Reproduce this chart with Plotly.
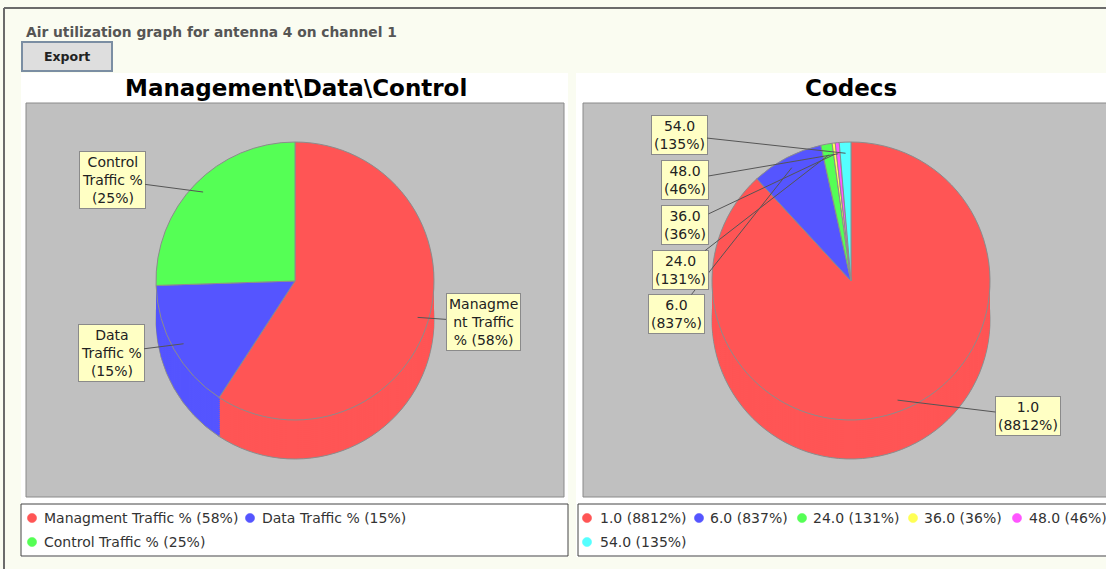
import math
import plotly.graph_objects as go

# ---- data -------------------------------------------------------------
mdc_names = ["Managment Traffic %", "Data Traffic %", "Control Traffic %"]
mdc_values = [58, 15, 25]
# wrapped callout text, "{v}" is filled with the slice value
mdc_callout_fmt = ["Managme<br>nt Traffic<br>% ({v}%)", "Data<br>Traffic %<br>({v}%)",
                   "Control<br>Traffic %<br>({v}%)"]

codec_names = ["1.0", "6.0", "24.0", "36.0", "48.0", "54.0"]
codec_values = [8812, 837, 131, 36, 46, 135]

slice_colors = ["#ff5555", "#5555ff", "#55ff55", "#ffff55", "#ff55ff", "#55ffff"]

# ---- page geometry (pixels) ------------------------------------------
W, H = 1106, 569
BG = "#fafcf1"


def px(x):
    return x / W


def py(y):
    return 1 - y / H


R = 139          # pie radius
DEPTH = 39       # extrusion depth of the 3D pie
STEP = 2
charts = [
    dict(names=mdc_names, values=mdc_values, cx=295, cy=281,
         fmt=mdc_callout_fmt,
         boxes=[(483, 322), (111, 353), (112, 180)]),
    dict(names=codec_names, values=codec_values, cx=851, cy=281,
         fmt=[n + "<br>({v}%)" for n in codec_names],
         boxes=[(1028, 416), (676, 314), (680, 270), (685, 225), (685, 180), (679, 135)]),
]

fig = go.Figure()
shapes = []
annotations = []

# window frame
shapes.append(dict(type="line", xref="paper", yref="paper", x0=px(4), x1=px(W + 5),
                   y0=py(8), y1=py(8), line=dict(color="#6b6b6b", width=2)))
shapes.append(dict(type="line", xref="paper", yref="paper", x0=px(4), x1=px(4),
                   y0=py(8), y1=py(H + 5), line=dict(color="#6b6b6b", width=2)))

# chart panels, plot areas and legend frames
for (x0, x1) in [(21, 568), (576, W + 5)]:
    shapes.append(dict(type="rect", xref="paper", yref="paper", layer="below",
                       x0=px(x0), x1=px(x1), y0=py(73), y1=py(557),
                       fillcolor="white", line=dict(width=0)))
for (x0, x1) in [(26, 564), (583, W + 5)]:
    shapes.append(dict(type="rect", xref="paper", yref="paper", layer="below",
                       x0=px(x0), x1=px(x1), y0=py(103), y1=py(497),
                       fillcolor="#c0c0c0", line=dict(color="#8a8a8a", width=1)))
for (x0, x1) in [(21, 568), (578, W + 5)]:
    shapes.append(dict(type="rect", xref="paper", yref="paper", layer="below",
                       x0=px(x0), x1=px(x1), y0=py(504), y1=py(556),
                       fillcolor="white", line=dict(color="#444444", width=1)))

# export button
shapes.append(dict(type="rect", xref="paper", yref="paper",
                   x0=px(22), x1=px(112), y0=py(42), y1=py(71),
                   fillcolor="#dedede", line=dict(color="#7b8ea3", width=2)))
annotations.append(dict(text="<b>Export</b>", x=px(67), y=py(56.5), xref="paper", yref="paper",
                        xanchor="center", yanchor="middle", showarrow=False,
                        font=dict(family="DejaVu Sans", size=12.5, color="#222")))

# page heading
annotations.append(dict(text="<b>Air utilization graph for antenna 4 on channel 1</b>",
                        x=px(24), y=py(32), xref="paper", yref="paper",
                        xanchor="left", yanchor="middle", showarrow=False,
                        font=dict(family="DejaVu Sans", size=13.8, color="#555555")))

# chart titles
for title, cx in [("Management\\Data\\Control", 296), ("Codecs", 851)]:
    annotations.append(dict(text="<b>" + title + "</b>", x=px(cx), y=py(88),
                            xref="paper", yref="paper", xanchor="center", yanchor="middle",
                            showarrow=False,
                            font=dict(family="DejaVu Sans", size=23, color="black")))

# 3D pies: stacked layers from the bottom of the extrusion up to the top face
for ch in charts:
    n = len(ch["values"])
    cols = slice_colors[:n]
    offsets = list(range(DEPTH, -1, -STEP))
    if offsets[-1] != 0:
        offsets.append(0)
    for off in offsets:
        cy = ch["cy"] + off
        edge = off == DEPTH or off == 0
        fig.add_trace(go.Pie(
            labels=ch["names"], values=ch["values"], sort=False,
            direction="clockwise", rotation=0,
            textinfo="none", hoverinfo="skip", showlegend=False,
            marker=dict(colors=cols,
                        line=dict(color="#8c8c8c" if edge else "rgba(0,0,0,0)",
                                  width=1 if edge else 0)),
            domain=dict(x=[px(ch["cx"] - R), px(ch["cx"] + R)],
                        y=[py(cy + R), py(cy - R)]),
        ))

    # callout labels pointing at each slice's mid angle
    total = sum(ch["values"])
    cum = 0
    for i, v in enumerate(ch["values"]):
        theta = 2 * math.pi * (cum + v / 2) / total
        cum += v
        tx = ch["cx"] + 0.92 * R * math.sin(theta)
        ty = ch["cy"] - 0.92 * R * math.cos(theta)
        bx, by = ch["boxes"][i]
        annotations.append(dict(
            text=ch["fmt"][i].format(v=v), x=px(tx), y=py(ty), xref="paper", yref="paper",
            ax=bx - tx, ay=by - ty, axref="pixel", ayref="pixel",
            showarrow=True, arrowhead=0, arrowwidth=1, arrowcolor="#555555",
            bgcolor="#ffffc4", bordercolor="#8a8a8a", borderwidth=1, borderpad=2,
            font=dict(family="DejaVu Sans", size=14, color="#222222"), align="center"))

# legends: (dot centre x, row y, text start x)
legend_pos = [
    [(32, 518, 42), (250, 518, 260), (32, 542, 42)],
    [(587, 518, 598), (699, 518, 708), (802, 518, 811), (913, 518, 922),
     (1017, 518, 1027), (587, 542, 598)],
]
for ch, pos in zip(charts, legend_pos):
    for i, (name, v) in enumerate(zip(ch["names"], ch["values"])):
        dx, dy, tx = pos[i]
        shapes.append(dict(type="circle", xref="paper", yref="paper",
                           x0=px(dx - 4.6), x1=px(dx + 4.6), y0=py(dy - 4.6), y1=py(dy + 4.6),
                           fillcolor=slice_colors[i], line=dict(color=slice_colors[i], width=0.5)))
        annotations.append(dict(text=f"{name} ({v}%)", x=px(tx), y=py(dy),
                                xref="paper", yref="paper", xanchor="left", yanchor="middle",
                                showarrow=False,
                                font=dict(family="DejaVu Sans", size=14, color="#333333")))

fig.update_layout(
    width=W, height=H, autosize=False,
    margin=dict(l=0, r=0, t=0, b=0),
    paper_bgcolor=BG, plot_bgcolor=BG,
    showlegend=False,
    shapes=shapes, annotations=annotations,
)

fig.write_html("out.html")
